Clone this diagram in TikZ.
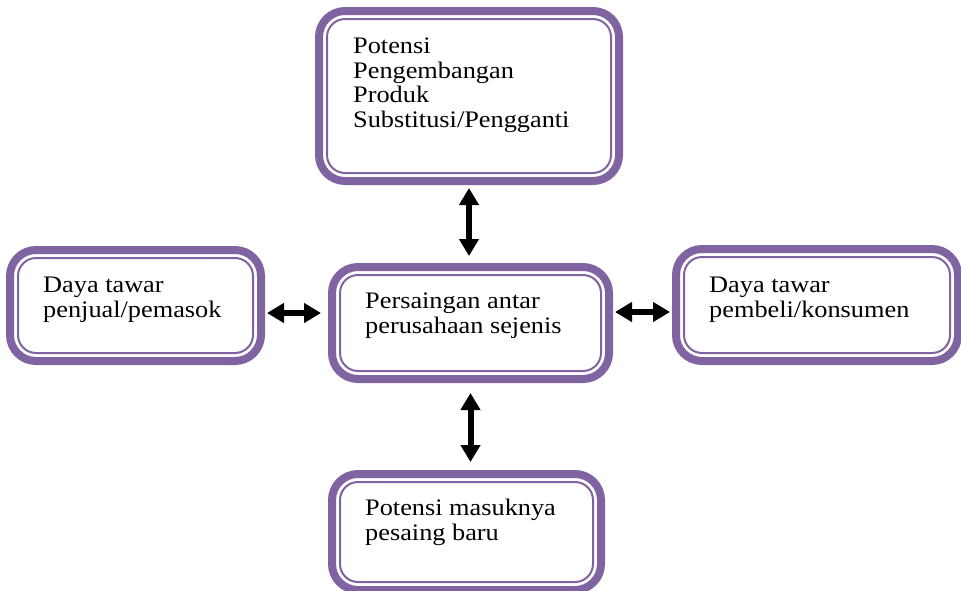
\documentclass[tikz,border=0pt]{standalone}
\usepackage{fontspec}
\newfontfamily\boxfont[FakeStretch=1.11]{Liberation Serif}
\usepackage{xcolor}
\usepackage{tikz}
\usetikzlibrary{arrows.meta}
\definecolor{forcepurple}{RGB}{128,100,162}

\begin{document}
\begin{tikzpicture}[
    x=1pt,y=1pt,
    force/.style={draw=forcepurple,line width=8pt,rounded corners=26pt,
                  fill=white,inner sep=0pt},
    inner rim/.style={draw=forcepurple,line width=2pt,rounded corners=18pt},
    boxtext/.style={anchor=north west,align=left,inner sep=0pt,
                    font=\boxfont\fontsize{23.7pt}{24.5pt}\selectfont},
    biarrow/.style={line width=6pt,
                    {Triangle[length=17pt,width=19pt]}-{Triangle[length=17pt,width=19pt]}}
]
    \useasboundingbox (0,0) rectangle (961,-590);

    % The five forces, the rivalry in the middle.
    \node[force,minimum width=300pt,minimum height=170pt] (substitusi) at (469,-96) {};
    \node[force,minimum width=251pt,minimum height=111pt] (pemasok)    at (135.5,-305.5) {};
    \node[force,minimum width=277pt,minimum height=112pt] (persaingan) at (470.5,-323) {};
    \node[force,minimum width=282pt,minimum height=112pt] (pembeli)    at (817,-305) {};
    \node[force,minimum width=269pt,minimum height=116pt] (pendatang)  at (466.5,-532) {};

    % Thin second rim inside each thick border.
    \foreach \f in {substitusi,pemasok,persaingan,pembeli,pendatang}
        \draw[inner rim] ([shift={(12pt,-12pt)}]\f.north west)
            rectangle ([shift={(-12pt,12pt)}]\f.south east);

    % Texts sit in the upper left of each box.
    \node[boxtext] (substitusi-text) at ([shift={(38pt,-31pt)}]substitusi.north west)
        {Potensi\\Pengembangan\\Produk\\Substitusi/Pengganti};
    \node[boxtext] (pemasok-text) at ([shift={(37pt,-31pt)}]pemasok.north west)
        {Daya tawar\\penjual/pemasok};
    \node[boxtext] (persaingan-text) at ([shift={(37pt,-30pt)}]persaingan.north west)
        {Persaingan antar\\perusahaan sejenis};
    \node[boxtext] (pembeli-text) at ([shift={(37pt,-32pt)}]pembeli.north west)
        {Daya tawar\\pembeli/konsumen};
    \node[boxtext] (pendatang-text) at ([shift={(37pt,-29pt)}]pendatang.north west)
        {Potensi masuknya\\pesaing baru};

    % Two-way arrows to the middle box.
    \draw[biarrow,shorten <=3pt,shorten >=7pt]
        (substitusi.south) -- (substitusi.south |- persaingan.north);
    \draw[biarrow,shorten <=10pt,shorten >=8pt]
        (persaingan.south) -- (persaingan.south |- pendatang.north);
    \draw[biarrow,shorten <=2pt,shorten >=7pt]
        ([yshift=-7.5pt]pemasok.east) -- ([yshift=-7.5pt]pemasok.east -| persaingan.west);
    \draw[biarrow,shorten <=2pt,shorten >=2pt]
        ([yshift=-7pt]pembeli.west -| persaingan.east) -- ([yshift=-7pt]pembeli.west);
\end{tikzpicture}
\end{document}
